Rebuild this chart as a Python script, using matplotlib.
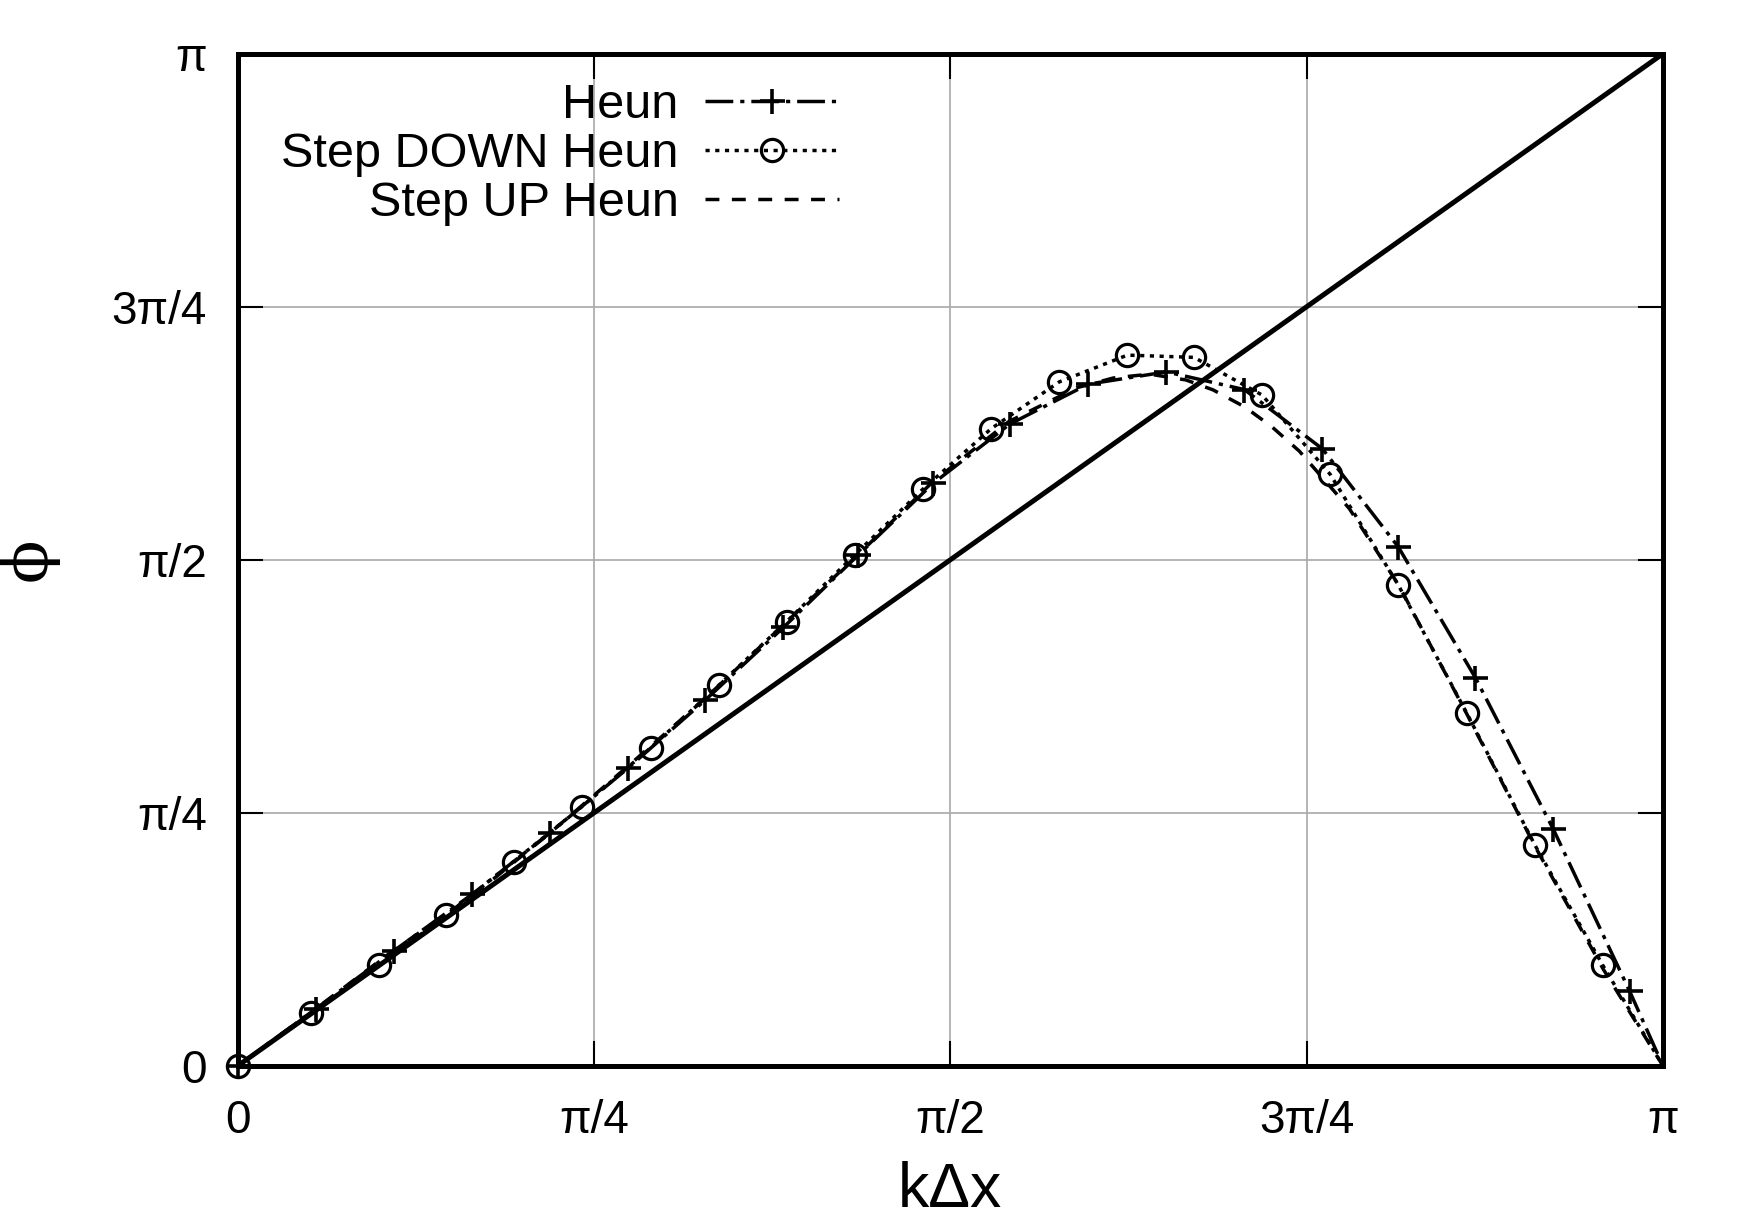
import numpy as np
import matplotlib
matplotlib.use('Agg')
import matplotlib.pyplot as plt

plt.rcParams['font.family'] = ['Liberation Sans', 'DejaVu Sans']
plt.rcParams['lines.scale_dashes'] = False

# values (radians)
heun_k = [0.0, 0.172, 0.344, 0.517, 0.689, 0.861, 1.031, 1.203, 1.368, 1.533,
          1.702, 1.875, 2.047, 2.219, 2.391, 2.558, 2.728, 2.900, 3.068, np.pi]
heun_phi = [0.0, 0.177, 0.357, 0.533, 0.724, 0.925, 1.136, 1.361, 1.586, 1.808,
            1.992, 2.116, 2.154, 2.099, 1.915, 1.611, 1.205, 0.734, 0.232, 0.0]

down_k = [0.0, 0.162, 0.312, 0.460, 0.608, 0.758, 0.910, 1.060, 1.210, 1.360, 1.511,
          1.661, 1.811, 1.961, 2.108, 2.258, 2.408, 2.558, 2.709, 2.859, 3.009, np.pi]
down_phi = [0.0, 0.163, 0.312, 0.468, 0.634, 0.804, 0.987, 1.181, 1.379, 1.586, 1.791,
            1.978, 2.123, 2.206, 2.199, 2.082, 1.836, 1.493, 1.095, 0.686, 0.312, 0.0]

up_k = [0.0, 0.17, 0.34, 0.52, 0.69, 0.86, 1.03, 1.20, 1.37, 1.53, 1.70, 1.85, 1.93,
        2.01, 2.09, 2.15, 2.22, 2.28, 2.34, 2.45, 2.56, 2.71, 2.86, 3.01, np.pi]
up_phi = [0.0, 0.175, 0.355, 0.53, 0.725, 0.93, 1.14, 1.365, 1.59, 1.81, 2.00, 2.105, 2.135,
          2.147, 2.129, 2.098, 2.045, 1.983, 1.908, 1.73, 1.49, 1.09, 0.68, 0.30, 0.0]

exact = [0.0, np.pi]

tick_vals = [0, np.pi / 4, np.pi / 2, 3 * np.pi / 4, np.pi]
tick_labels = ['0', 'π/4', 'π/2', '3π/4', 'π']

fig = plt.figure(figsize=(17.5, 12.22), dpi=100)
ax = fig.add_axes([0.1358, 0.1277, 0.8145, 0.8284])

ax.plot(heun_k, heun_phi, color='k', lw=2.5, ls=(0, (20, 5, 3, 5)),
        marker='+', ms=18, mew=2.6, markevery=list(range(len(heun_k) - 1)),
        label='Heun', zorder=4, clip_on=False)
ax.plot(down_k, down_phi, color='k', lw=2.5, ls=(0, (3, 4)),
        marker='o', ms=16, mew=2.3, mfc='none', markevery=list(range(len(down_k) - 1)),
        label='Step DOWN Heun', zorder=4, clip_on=False)
ax.plot(up_k, up_phi, color='k', lw=2.5, ls=(0, (10, 9)),
        label='Step UP Heun', zorder=4)
ax.plot(exact, exact, color='k', lw=3.6, zorder=3)

ax.set_xlim(0, np.pi)
ax.set_ylim(0, np.pi)
ax.set_xticks(tick_vals)
ax.set_xticklabels(tick_labels)
ax.set_yticks(tick_vals)
ax.set_yticklabels(tick_labels)
ax.tick_params(direction='in', length=18, width=1.5, top=True, right=True, labelsize=33)
ax.tick_params(axis='x', pad=24)
ax.tick_params(axis='y', pad=22)
ax.grid(True, color='#a8a8a8', lw=1.2, zorder=0)
for s in ax.spines.values():
    s.set_linewidth(3.6)

ax.legend(loc='upper right', bbox_to_anchor=(0.422, 0.971), frameon=False,
          markerfirst=False, handlelength=2.75, handletextpad=0.55, labelspacing=0.08,
          fontsize=35, borderpad=0, borderaxespad=0)

fig.text(0.543, 0.026, 'kΔx', fontsize=45, ha='center', va='center')
fig.text(0.016, 0.542, 'ϕ', fontsize=46, ha='center', va='center', rotation=90,
         family=['DejaVu Serif', 'Liberation Serif'])

fig.savefig('out.png', dpi=100)
